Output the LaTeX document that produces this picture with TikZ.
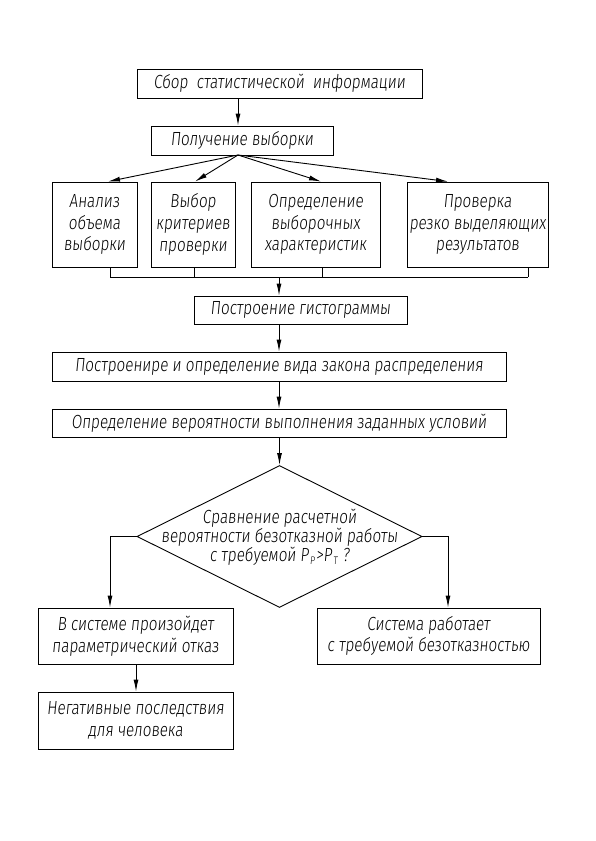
\documentclass[tikz,border=0pt]{standalone}
\usepackage{fontspec}
\setmainfont{Fira Sans}[UprightFont={Fira Sans Light},FakeSlant=0.1,FakeStretch=0.8]
\usetikzlibrary{arrows.meta,shapes.geometric,calc}
\newcommand{\subidx}[1]{\kern1pt\raisebox{-0.35ex}{\fontsize{11}{11}\selectfont #1}\kern1pt}
\begin{document}
\begin{tikzpicture}[x=1pt,y=-1pt,
  box/.style={draw,line width=0.9pt,rectangle,inner sep=0pt,align=center,font=\fontsize{19}{21.7}\selectfont},
  arr/.style={line width=0.9pt,-{Latex[length=12pt,width=5pt]}},
  ln/.style={line width=0.9pt}]
\useasboundingbox (0,0) rectangle (595,841);
\node[box,minimum width=285pt,minimum height=29pt] (b1) at (279.5,83.5) {Сбор\ \ статистической\ \ информации};
\node[box,minimum width=182pt,minimum height=29pt] (b2) at (242,140.5) {Получение выборки};
\node[box,minimum width=85pt,minimum height=85pt] (ba) at (94.5,224.5) {Анализ\\объема\\выборки};
\node[box,minimum width=84pt,minimum height=85pt] (bb) at (193,224.5) {Выбор\\критериев\\проверки};
\node[box,minimum width=129pt,minimum height=85pt] (bc) at (315.5,224.5) {Определение\\выборочных\\характеристик};
\node[box,minimum width=141pt,minimum height=85pt] (bd) at (477.5,224.5) {Проверка\\резко выделяющих\\результатов};
\node[box,minimum width=213pt,minimum height=28pt] (bh) at (300.5,310) {Построение гистограммы};
\node[box,minimum width=454pt,minimum height=29pt] (bl) at (279,366.5) {Построенире и определение вида закона распределения};
\node[box,minimum width=454pt,minimum height=28pt] (bp) at (279,423) {Определение вероятности выполнения заданных условий};
\node[diamond,draw,line width=0.9pt,inner sep=0pt,minimum width=285pt,minimum height=142pt] (dec) at (279.5,536.5) {};
\node[align=center,inner sep=0pt,font=\fontsize{19}{19}\selectfont] (dect) at (279.5,537) {Сравнение расчетной\\вероятности безотказной работы\\с требуемой Р\subidx{Р}>Р\subidx{Т}\ ?};
\node[box,minimum width=195pt,minimum height=56pt] (bf) at (135.5,636) {В системе произойдет\\параметрический отказ};
\node[box,minimum width=223pt,minimum height=56pt] (bw) at (428.5,636) {Система работает\\с требуемой безотказностью};
\node[box,minimum width=195pt,minimum height=57pt] (bn) at (135.5,720.5) {Негативные последствия\\для человека};
% connectors
\coordinate (c1) at (238,0);
\draw[arr] (b1.south -| c1) -- (b2.north -| c1);
\coordinate (fan) at (238,155);
\coordinate (ta) at (108,0);
\coordinate (tb) at (195,0);
\coordinate (tc) at (321,0);
\coordinate (td) at (448,0);
\draw[arr] (fan) -- (ba.north -| ta);
\draw[arr] (fan) -- (bb.north -| tb);
\draw[arr] (fan) -- (bc.north -| tc);
\draw[arr] (fan) -- (bd.north -| td);
\coordinate (ma) at (110,277);
\coordinate (mb) at (194,277);
\coordinate (mc) at (322,277);
\coordinate (md) at (528,277);
\draw[ln] (ba.south -| ma) -- (ma);
\draw[ln] (bb.south -| mb) -- (mb);
\draw[ln] (bc.south -| mc) -- (mc);
\draw[ln] (bd.south -| md) -- (md);
\draw[ln] (ma) -- (md);
\coordinate (mm) at (279,277);
\draw[arr] (mm) -- (bh.north -| mm);
\draw[arr] (bh.south -| mm) -- (bl.north -| mm);
\draw[arr] (bl.south -| mm) -- (bp.north -| mm);
\draw[arr] (bp.south -| dec.north) -- (dec.north);
\coordinate (lx) at (110,0);
\coordinate (rx) at (448,0);
\draw[arr] (dec.west) -- (dec.west -| lx) -- (bf.north -| lx);
\draw[arr] (dec.east) -- (dec.east -| rx) -- (bw.north -| rx);
\coordinate (nx) at (136,0);
\draw[arr] (bf.south -| nx) -- (bn.north -| nx);
\end{tikzpicture}
\end{document}
